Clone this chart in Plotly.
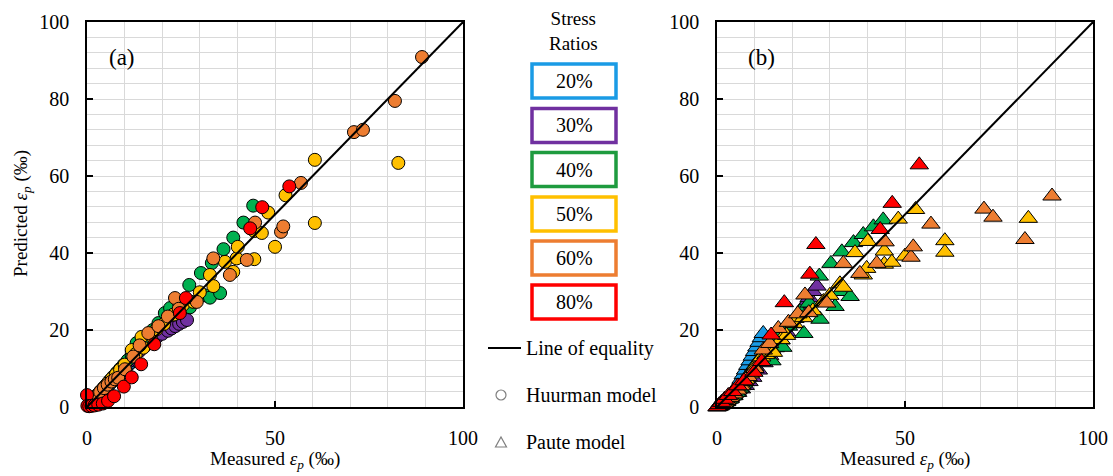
import plotly.graph_objects as go

# ---- data: measured permanent strain vs model predictions (‰) ----
ratio_labels = ["20%", "30%", "40%", "50%", "60%", "80%"]
ratio_colors = ["#1A9BE5", "#7030A0", "#00B050", "#FFC000", "#ED7D31", "#FF0000"]
box_colors = ["#1A9BE5", "#7030A0", "#1E9B3F", "#FFC000", "#ED7D31", "#FF0000"]

meas_20 = [2.0, 2.5, 3.0, 3.5, 4.0, 4.6, 5.2, 5.8, 6.4, 7.0, 7.6, 8.2, 8.8, 9.4, 10.0, 10.6, 11.2, 11.8, 12.3]
huur_20 = [1.9, 2.4, 2.9, 3.4, 3.9, 4.5, 5.1, 5.7, 6.3, 6.9, 7.5, 8.1, 8.7, 9.3, 9.9, 10.5, 11.1, 11.7, 12.2]
paute_20 = [1.0, 1.5, 2.0, 2.6, 3.2, 4.0, 5.0, 6.0, 7.2, 8.4, 9.6, 10.8, 12.0, 13.2, 14.4, 15.6, 16.8, 18.0, 19.1]

meas_30 = [1.5, 2.5, 3.5, 4.5, 5.5, 6.5, 7.5, 8.5, 9.5, 11.0, 12.5, 14.0, 15.5, 17.0, 18.5, 20.0, 21.5, 22.5, 23.5, 24.5, 25.5, 26.6]
huur_30 = [1.8, 2.9, 4.0, 5.0, 6.0, 7.1, 8.1, 9.2, 10.2, 11.8, 13.2, 14.6, 15.9, 17.0, 18.1, 19.0, 19.8, 20.4, 21.0, 21.6, 22.1, 22.6]
paute_30 = [0.8, 1.5, 2.2, 3.0, 3.8, 4.7, 5.6, 6.6, 7.7, 9.6, 11.5, 13.4, 15.4, 17.4, 19.5, 21.6, 23.7, 25.2, 26.8, 28.4, 30.0, 31.4]

meas_40 = [0.8, 1.6, 2.5, 3.4, 4.3, 5.2, 6.1, 7.0, 7.9, 8.8, 9.8, 10.8, 11.9, 13.2, 14.6, 16.0, 17.5, 19.0, 20.7,
           22.1, 23.1, 24.5, 27.2, 27.4, 30.3, 31.4, 32.7, 33.2, 35.4, 36.3, 38.9, 41.6, 44.2]
huur_40 = [0.9, 1.8, 2.8, 3.8, 4.8, 5.8, 6.9, 7.9, 8.9, 9.9, 11.0, 12.1, 13.4, 16.6, 16.8, 18.2, 20.0, 21.8, 24.4,
           25.7, 24.0, 26.8, 31.7, 25.9, 34.8, 29.0, 28.4, 37.4, 29.6, 41.0, 44.0, 47.9, 52.3]
paute_40 = [0.3, 0.8, 1.4, 2.1, 2.9, 3.8, 4.9, 6.2, 7.6, 9.0, 10.4, 11.8, 13.2, 14.8, 12.0, 17.8, 15.5, 21.0, 23.0,
            24.8, 19.1, 27.0, 34.0, 22.8, 37.3, 26.1, 30.0, 40.3, 28.7, 42.7, 44.8, 46.8, 48.6]

meas_50 = [0.5, 1.2, 2.0, 2.8, 3.7, 4.6, 5.6, 6.6, 7.7, 8.8, 10.0, 11.9, 13.0, 14.5, 15.0, 17.0, 18.5, 20.5, 23.0,
           25.5, 28.3, 30.0, 32.7, 33.6, 36.7, 38.9, 39.8, 40.1, 44.5, 44.5, 46.5, 48.2, 50.0, 52.8, 60.6, 60.6, 82.8]
huur_50 = [0.6, 1.4, 2.3, 3.2, 4.2, 5.2, 6.3, 7.4, 8.5, 9.7, 11.0, 14.8, 13.8, 18.2, 15.4, 18.6, 20.2, 21.6, 24.0,
           26.5, 27.3, 29.8, 34.3, 31.4, 37.7, 35.1, 38.6, 41.6, 45.7, 38.4, 45.2, 50.5, 41.6, 55.0, 64.2, 47.8, 63.4]
paute_50 = [0.2, 0.6, 1.2, 1.9, 2.7, 3.6, 4.6, 5.8, 7.2, 8.6, 10.4, 13.0, 13.6, 15.0, 14.2, 17.5, 18.6, 21.7, 23.2,
            25.0, 27.4, 29.0, 32.0, 31.1, 40.1, 34.3, 36.0, 43.0, 37.1, 40.5, 37.6, 48.8, 39.2, 51.3, 43.2, 40.2, 49.0]

meas_60 = [0.3, 1.0, 1.8, 2.6, 3.5, 4.5, 5.5, 6.5, 7.4, 8.3, 10.1, 12.3, 14.0, 16.3, 19.0, 21.5, 23.4, 24.4, 29.2,
           33.6, 38.0, 42.5, 44.7, 51.6, 52.2, 56.9, 71.0, 73.4, 81.9, 89.1]
huur_60 = [0.4, 1.1, 2.0, 2.9, 3.9, 4.9, 5.8, 6.6, 7.2, 7.6, 9.8, 13.1, 16.0, 19.2, 21.0, 23.5, 28.3, 25.5, 27.3,
           38.6, 34.3, 38.2, 47.9, 45.5, 46.9, 58.2, 71.4, 72.0, 79.5, 90.9]
paute_60 = [0.1, 0.5, 1.0, 1.7, 2.5, 3.4, 4.4, 5.5, 6.6, 7.9, 10.0, 14.8, 16.5, 20.4, 22.0, 24.2, 29.1, 24.5, 27.0,
            37.3, 34.7, 37.3, 42.9, 38.9, 41.6, 47.5, 51.4, 49.3, 43.5, 54.8]

meas_80 = [0.0, 0.1, 0.6, 1.2, 2.0, 3.0, 4.2, 5.6, 7.2, 9.8, 11.9, 14.4, 17.9, 24.7, 26.3, 43.4, 46.6, 53.8]
huur_80 = [3.1, 0.3, 0.2, 0.3, 0.4, 0.6, 0.9, 1.6, 2.8, 5.3, 7.7, 11.1, 16.3, 24.4, 28.3, 46.4, 51.9, 57.3]
paute_80 = [0.0, 0.1, 0.6, 1.2, 2.0, 3.0, 4.0, 5.5, 6.8, 9.0, 11.8, 18.7, 27.1, 34.5, 42.2, 46.1, 52.9, 62.9]

measured = [meas_20, meas_30, meas_40, meas_50, meas_60, meas_80]
huurman = [huur_20, huur_30, huur_40, huur_50, huur_60, huur_80]
paute = [paute_20, paute_30, paute_40, paute_50, paute_60, paute_80]

equality = [0, 100]
x_ticks = [0, 50, 100]
y_ticks = [0, 20, 40, 60, 80, 100]

W, H = 1113, 476
FONT = "Liberation Serif"


def px(x):
    return x / W


def py(y):
    return 1 - y / H


fig = go.Figure()

for meas, pred, col in zip(measured, huurman, ratio_colors):
    fig.add_trace(go.Scatter(x=meas, y=pred, mode="markers", xaxis="x", yaxis="y",
                             cliponaxis=False, showlegend=False,
                             marker=dict(symbol="circle", size=13, color=col,
                                         line=dict(color="black", width=1))))
for meas, pred, col in zip(measured, paute, ratio_colors):
    fig.add_trace(go.Scatter(x=meas, y=pred, mode="markers", xaxis="x2", yaxis="y2",
                             cliponaxis=False, showlegend=False,
                             marker=dict(symbol="triangle-up", size=16, color=col,
                                         line=dict(color="black", width=1))))
for xa, ya in (("x", "y"), ("x2", "y2")):
    fig.add_trace(go.Scatter(x=equality, y=equality, mode="lines", xaxis=xa, yaxis=ya,
                             showlegend=False, line=dict(color="black", width=2)))

grid = "#D9D9D9"
axis_common = dict(range=[0, 100], showline=True, linecolor="black", linewidth=1.5, mirror=True,
                   ticks="inside", ticklen=6, tickwidth=1.5, tickcolor="black", zeroline=False,
                   showgrid=True, gridcolor=grid, gridwidth=1.3, automargin=False,
                   tickfont=dict(family=FONT, size=20, color="black"), ticklabelstandoff=12)

xdom1 = [px(87), px(463)]
xdom2 = [px(717), px(1093)]
ydom = [py(407), py(22)]

xaxis_style = dict(axis_common, tickmode="array", tickvals=x_ticks,
                   minor=dict(dtick=10, tick0=0, showgrid=True, gridcolor=grid, gridwidth=1.3, ticks=""))
yaxis_style = dict(axis_common, tickmode="array", tickvals=y_ticks,
                   minor=dict(dtick=4, tick0=0, showgrid=True, gridcolor=grid, gridwidth=1.3, ticks=""))

fig.update_layout(
    width=W, height=H, autosize=False,
    margin=dict(l=0, r=0, t=0, b=0, pad=0, autoexpand=False),
    paper_bgcolor="white", plot_bgcolor="white",
    font=dict(family=FONT, color="black"),
    showlegend=False,
    xaxis=dict(xaxis_style, domain=xdom1, anchor="y"),
    yaxis=dict(yaxis_style, domain=ydom, anchor="x"),
    xaxis2=dict(xaxis_style, domain=xdom2, anchor="y2"),
    yaxis2=dict(yaxis_style, domain=ydom, anchor="x2"),
)

ann = []
shapes = []

# axis titles and panel labels
xtitle = "Measured <i>ε</i><sub><i>p</i></sub> (‰)"
ann.append(dict(x=px(275), y=py(460), text=xtitle, showarrow=False, xref="paper", yref="paper",
                font=dict(size=19), xanchor="center", yanchor="middle"))
ann.append(dict(x=px(905), y=py(460), text=xtitle, showarrow=False, xref="paper", yref="paper",
                font=dict(size=19), xanchor="center", yanchor="middle"))
ann.append(dict(x=px(22), y=py(214), text="Predicted <i>ε</i><sub><i>p</i></sub> (‰)", showarrow=False,
                xref="paper", yref="paper", textangle=-90, font=dict(size=19),
                xanchor="center", yanchor="middle"))
ann.append(dict(x=px(122), y=py(57), text="(a)", showarrow=False, xref="paper", yref="paper",
                font=dict(size=23), xanchor="center", yanchor="middle"))
ann.append(dict(x=px(761), y=py(57), text="(b)", showarrow=False, xref="paper", yref="paper",
                font=dict(size=23), xanchor="center", yanchor="middle"))

# stress-ratio key
ann.append(dict(x=px(573), y=py(31), text="Stress<br>Ratios", showarrow=False, xref="paper", yref="paper",
                font=dict(size=19), xanchor="center", yanchor="middle", align="center"))
box_centers = [81, 125.5, 169.5, 214, 258, 302]
for lab, col, cy in zip(ratio_labels, box_colors, box_centers):
    shapes.append(dict(type="rect", xref="paper", yref="paper",
                       x0=px(532), x1=px(616), y0=py(cy - 17), y1=py(cy + 17),
                       line=dict(color=col, width=3.5), fillcolor="white"))
    ann.append(dict(x=px(574), y=py(cy), text=lab, showarrow=False, xref="paper", yref="paper",
                    font=dict(size=20), xanchor="center", yanchor="middle"))

# line / marker key
shapes.append(dict(type="line", xref="paper", yref="paper", x0=px(488), x1=px(521), y0=py(348), y1=py(348),
                   line=dict(color="black", width=1.8)))
ann.append(dict(x=px(524), y=py(348), text="Line of equality", showarrow=False, xref="paper", yref="paper",
                font=dict(size=20), xanchor="left", yanchor="middle"))
shapes.append(dict(type="circle", xref="paper", yref="paper", x0=px(496), x1=px(506), y0=py(400), y1=py(390),
                   line=dict(color="#7F7F7F", width=1.2)))
ann.append(dict(x=px(524), y=py(395), text="Huurman model", showarrow=False, xref="paper", yref="paper",
                font=dict(size=20), xanchor="left", yanchor="middle"))
tri = "M {:.5f},{:.5f} L {:.5f},{:.5f} L {:.5f},{:.5f} Z".format(
    px(495.5), py(447), px(506.5), py(447), px(501), py(437))
shapes.append(dict(type="path", xref="paper", yref="paper", path=tri,
                   line=dict(color="#7F7F7F", width=1.2)))
ann.append(dict(x=px(524), y=py(442), text="Paute model", showarrow=False, xref="paper", yref="paper",
                font=dict(size=20), xanchor="left", yanchor="middle"))

fig.update_layout(annotations=ann, shapes=shapes)
fig.write_html("out.html")
